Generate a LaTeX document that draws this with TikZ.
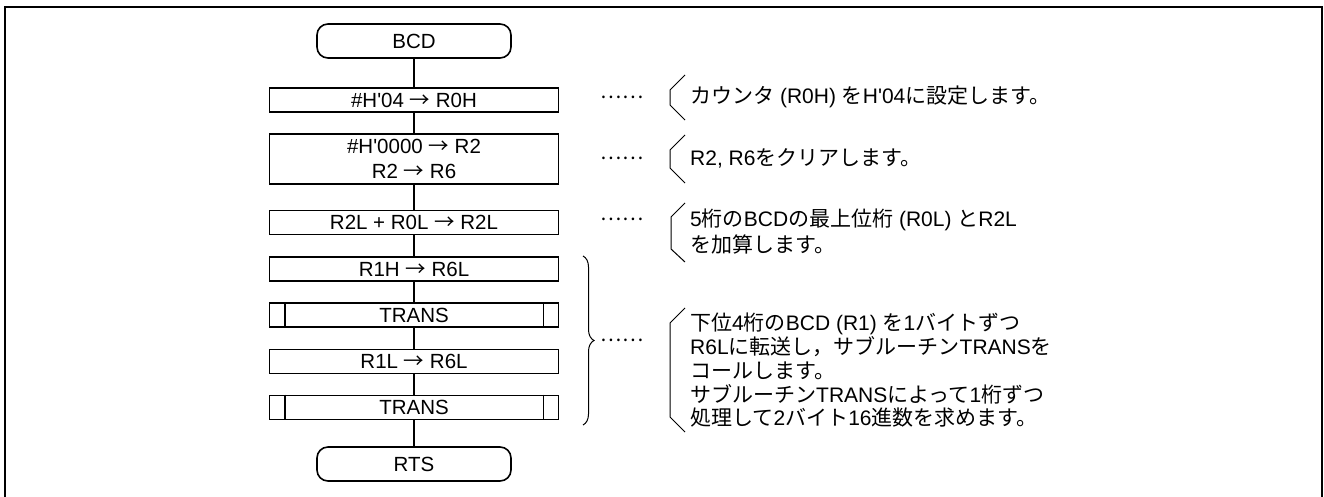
\documentclass[tikz,border=0pt]{standalone}
\usepackage{fontspec}
\setmainfont{Liberation Sans}
\newfontfamily\jpfont{Noto Sans CJK JP}
\newcommand\JP[1]{{\jpfont #1}}
\usetikzlibrary{decorations.pathreplacing}
\begin{document}
\begin{tikzpicture}[x=1pt,y=-1pt,
  base/.style={font=\fontsize{20.5}{25}\selectfont},
  proc/.style={base, draw, line width=1.8pt, minimum width=289pt, minimum height=24pt, inner sep=0pt, align=center},
  term/.style={base, draw, line width=1.6pt, rounded corners=11pt, minimum width=194pt, minimum height=34pt, inner sep=0pt},
  conn/.style={line width=1.2pt},
  note/.style={anchor=west, align=left, inner sep=0pt, font=\fontsize{21}{24}\selectfont},
  dots/.style={inner sep=0pt, font=\fontsize{20}{24}\selectfont},
  brk/.style={line width=1pt}]
\useasboundingbox (0,0) rectangle (1324,496);
\draw[line width=2pt] (5,500) -- (5,7) -- (1322,7) -- (1322,500);

\node[term] (bcd) at (414,41) {BCD};
\node[proc] (b1) at (414,100) {\#H\textquotesingle04 \JP{→} R0H};
\node[proc, minimum height=50pt] (b2) at (414,159) {\#H\textquotesingle0000 \JP{→} R2\\R2 \JP{→} R6};
\node[proc] (b3) at (414,222.5) {R2L + R0L \JP{→} R2L};
\node[proc] (b4) at (414,269) {R1H \JP{→} R6L};
\node[proc] (t1) at (414,315) {TRANS};
\node[proc] (b5) at (414,361.5) {R1L \JP{→} R6L};
\node[proc] (t2) at (414,407.5) {TRANS};
\node[term] (rts) at (414,464) {RTS};

\foreach \n in {t1,t2}{
  \draw[line width=1.8pt] ([xshift=16pt]\n.north west) -- ([xshift=16pt]\n.south west);
  \draw[line width=1.8pt] ([xshift=-16pt]\n.north east) -- ([xshift=-16pt]\n.south east);
}

\draw[conn] (bcd) -- (b1);
\draw[conn] (b1) -- (b2);
\draw[conn] (b2) -- (b3);
\draw[conn] (b3) -- (b4);
\draw[conn] (b4) -- (t1);
\draw[conn] (t1) -- (b5);
\draw[conn] (b5) -- (t2);
\draw[conn] (t2) -- (rts);

% dots
\node[dots] (d1) at (622,97) {\JP{……}};
\node[dots] (d2) at (622,158) {\JP{……}};
\node[dots] (d3) at (622,219) {\JP{……}};
\node[dots] (d4) at (622,340) {\JP{……}};

% brackets
\draw[brk] (685,75) -- (670,90) -- (670,105) -- (685,120);
\draw[brk] (685,135) -- (670,150) -- (670,168) -- (685,183);
\draw[brk] (685,203) -- (671,217) -- (671,249) -- (685,262);
\draw[brk] (685,308) -- (670,323) -- (670,417) -- (685,432);

% brace
\coordinate (bt) at (583,256);
\coordinate (bb) at (583,425);
\draw[brk, decorate, decoration={brace, amplitude=11pt}] (bt) -- (bb);

% notes
\node[note] (n1) at (690,97) {\JP{カウンタ} (R0H) \JP{を}H\textquotesingle04\JP{に設定します。}};
\node[note] (n2) at (690,158) {R2, R6\JP{をクリアします。}};
\node[note, font=\fontsize{21}{26}\selectfont] (n3) at (690,231.5) {5\JP{桁の}BCD\JP{の最上位桁} (R0L) \JP{と}R2L\\\JP{を加算します。}};
\node[note, font=\fontsize{21}{23.75}\selectfont] (n4) at (690,370.5) {\JP{下位}4\JP{桁の}BCD (R1) \JP{を}1\JP{バイトずつ}\\R6L\JP{に転送し，サブルーチン}TRANS\JP{を}\\\JP{コールします。}\\\JP{サブルーチン}TRANS\JP{によって}1\JP{桁ずつ}\\\JP{処理して}2\JP{バイト}16\JP{進数を求めます。}};
\end{tikzpicture}
\end{document}
